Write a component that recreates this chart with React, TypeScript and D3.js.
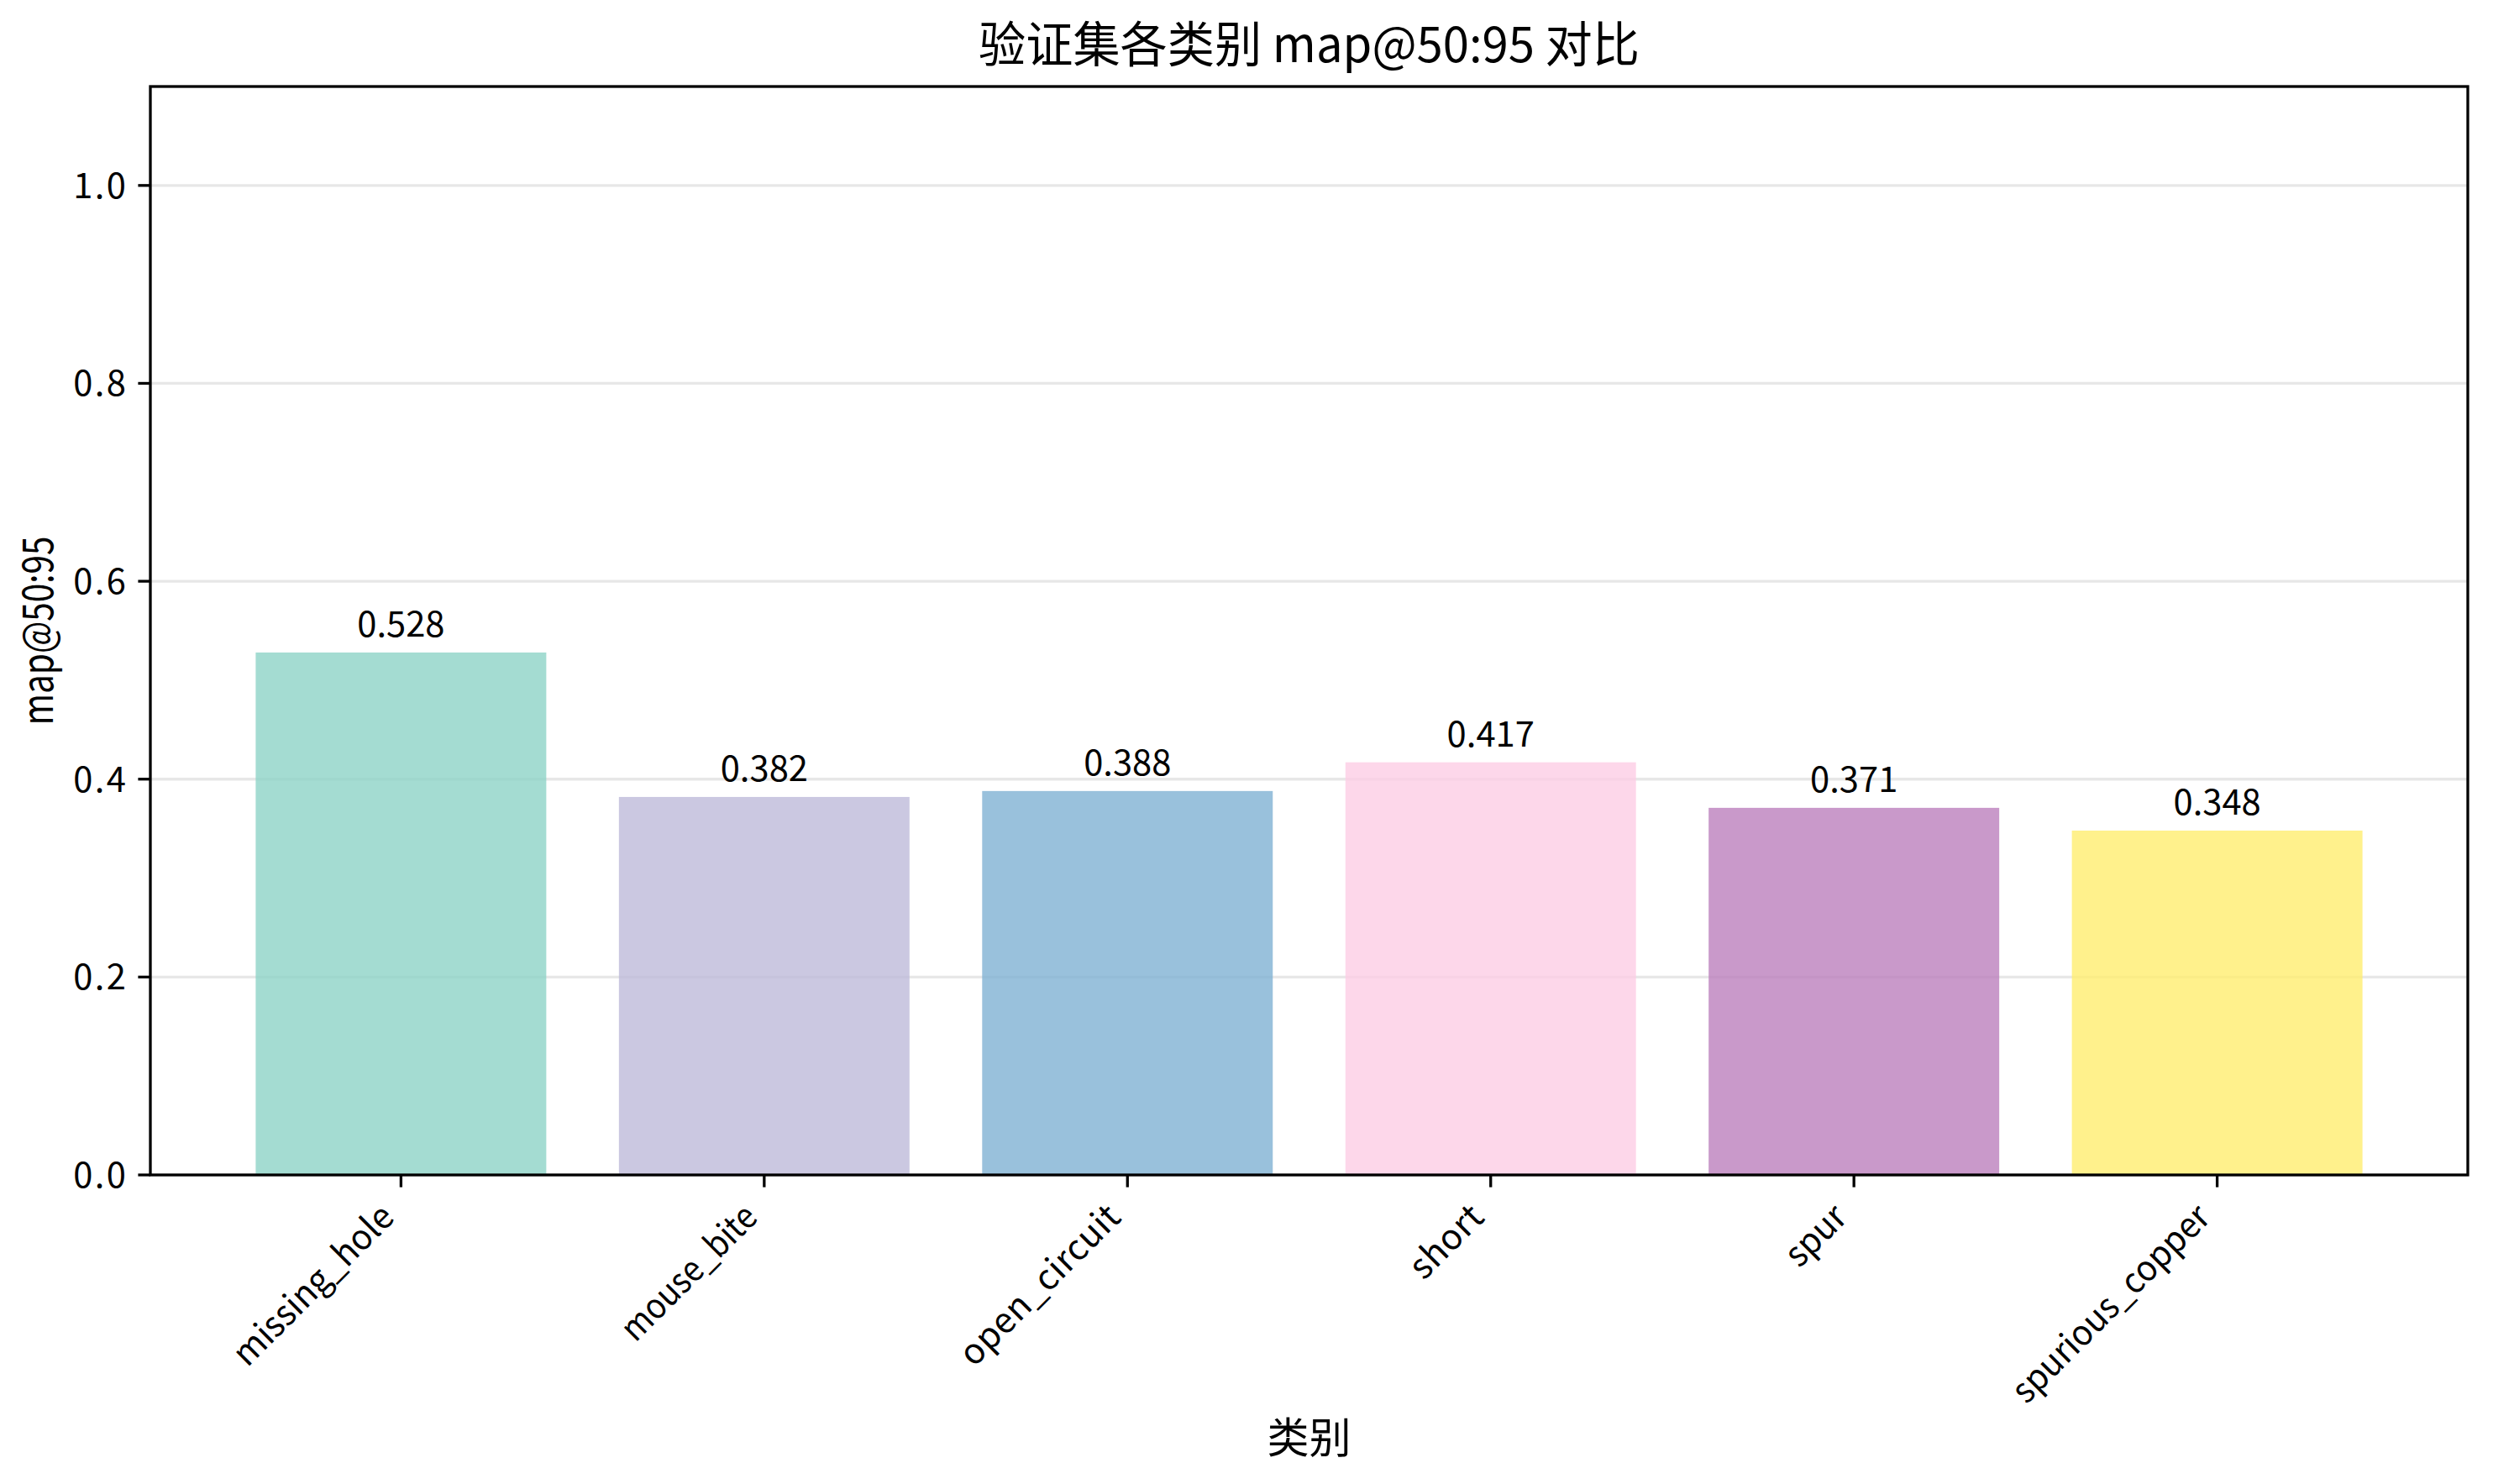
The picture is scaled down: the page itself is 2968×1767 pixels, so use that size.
import React from "react";
import * as d3 from "d3";

const categories = ["missing_hole", "mouse_bite", "open_circuit", "short", "spur", "spurious_copper"];
const values = [0.528, 0.382, 0.388, 0.417, 0.371, 0.348];
const colors = ["#8dd3c7", "#bebada", "#80b1d3", "#fccde5", "#bc80bd", "#ffed6f"];
const yTicks = [0.0, 0.2, 0.4, 0.6, 0.8, 1.0];
const titleText = "验证集各类别 map@50:95 对比";
const xLabelText = "类别";
const yLabelText = "map@50:95";

const W = 2968;
const H = 1767;
const L = 179, R = 2938, T = 103, B = 1399;
const FONT = "SimHei, 'Noto Sans CJK SC', sans-serif";
const FS = 41.7;

// width emulating SimHei: half-width latin, full-width CJK
function emWidth(s: string, fs: number) {
  let w = 0;
  for (const ch of s) w += /[\u0000-\u00ff]/.test(ch) ? 0.5 : 1;
  return w * fs;
}

let ctx: CanvasRenderingContext2D | null = null;
function natural(s: string, fs: number) {
  if (typeof document === "undefined") return emWidth(s, fs);
  if (!ctx) ctx = document.createElement("canvas").getContext("2d");
  if (!ctx) return emWidth(s, fs);
  ctx.font = `${fs}px ${FONT}`;
  return ctx.measureText(s).width;
}

function T_(props: any) {
  const { text, fs, ...rest } = props;
  const target = emWidth(text, fs);
  const nat = natural(text, fs);
  const mode = nat <= target ? "spacing" : "spacingAndGlyphs";
  return (
    <text fontFamily={FONT} fontSize={fs} textLength={target} lengthAdjust={mode} {...rest}>
      {text}
    </text>
  );
}

export default function App() {
  const x = d3.scaleLinear().domain([-0.69, 5.69]).range([L, R]);
  const y = d3.scaleLinear().domain([0, 1.1]).range([B, T]);
  const bw = x(0.8) - x(0);
  const tickLen = 14.6;
  const a = 0.8 * FS, dsc = 0.2 * FS;
  const labTop = B + tickLen + 14.6;
  return (
    <svg width={W} height={H} style={{ position: "absolute", left: 0, top: 0, background: "#fff" }}>
      <rect x={0} y={0} width={W} height={H} fill="#fff" />
      {yTicks.map((t) => (
        <line key={"g" + t} x1={L} x2={R} y1={y(t)} y2={y(t)} stroke="#b0b0b0" strokeOpacity={0.3} strokeWidth={3.3} />
      ))}
      {values.map((v, i) => (
        <rect key={"b" + i} x={x(i) - bw / 2} y={y(v)} width={bw} height={y(0) - y(v)} fill={colors[i]} fillOpacity={0.8} />
      ))}
      {values.map((v, i) => (
        <T_ key={"v" + i} text={v.toFixed(3)} fs={FS} x={x(i)} y={y(v + 0.01) - 7} textAnchor="middle" fill="#000" />
      ))}
      <rect x={L} y={T} width={R - L} height={B - T} fill="none" stroke="#000" strokeWidth={3.3} />
      {yTicks.map((t) => (
        <g key={"yt" + t}>
          <line x1={L - tickLen} x2={L} y1={y(t)} y2={y(t)} stroke="#000" strokeWidth={3.3} />
          <T_ text={t.toFixed(1)} fs={FS} x={L - tickLen - 14.6} y={y(t) + 0.36 * FS} textAnchor="end" fill="#000" />
        </g>
      ))}
      {categories.map((c, i) => {
        const ax = x(i) - dsc / Math.SQRT2;
        const ay = labTop + a / Math.SQRT2;
        return (
          <g key={"xt" + c}>
            <line x1={x(i)} x2={x(i)} y1={B} y2={B + tickLen} stroke="#000" strokeWidth={3.3} />
            <T_ text={c} fs={FS} x={ax} y={ay} textAnchor="end" fill="#000" transform={`rotate(-45 ${ax} ${ay})`} />
          </g>
        );
      })}
      <T_ text={titleText} fs={58.3} x={(L + R) / 2} y={74} textAnchor="middle" fill="#000" />
      <T_ text={xLabelText} fs={50} x={(L + R) / 2} y={1730} textAnchor="middle" fill="#000" />
      <T_ text={yLabelText} fs={50} x={63} y={(T + B) / 2} textAnchor="middle" fill="#000" transform={`rotate(-90 63 ${(T + B) / 2})`} />
    </svg>
  );
}
